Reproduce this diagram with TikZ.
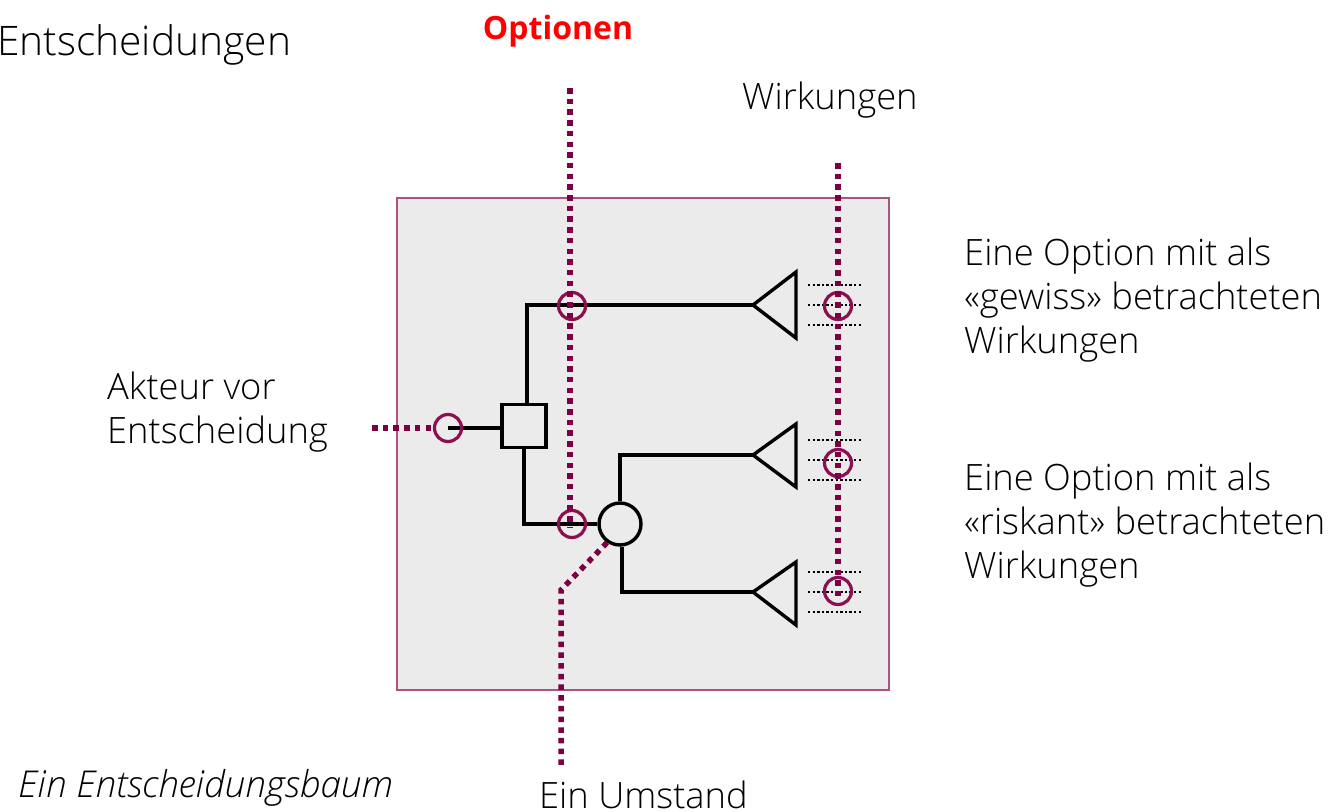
\documentclass[tikz,border=0pt]{standalone}
\usepackage{fontspec}
\setmainfont{Open Sans}[UprightFont=* Light, ItalicFont=* Light Italic, BoldFont=* Bold]
\definecolor{mrn}{HTML}{7D0045}
\definecolor{mrncirc}{HTML}{8C0F4F}
\definecolor{boxborder}{HTML}{A9547F}
\definecolor{boxfill}{HTML}{EBEBEB}
\begin{document}
\begin{tikzpicture}[x=1pt,y=-1pt,
  lbl/.style={inner sep=0pt, font=\fontsize{36.3}{44}\selectfont},
  mdot/.style={draw=mrn, line width=5.5pt, dash pattern=on 5.5pt off 5.2pt},
  bdot/.style={draw=black, line width=2.4pt, dash pattern=on 2.4pt off 2.2pt},
  mcirc/.style={circle, draw=mrncirc, line width=3.2pt, minimum size=27pt, inner sep=0pt},
  conn/.style={draw=black, line width=3.4pt},
  sqbox/.style={rectangle, draw=black, line width=3.4pt, minimum width=44pt, minimum height=43pt, inner sep=0pt},
  chance/.style={circle, draw=black, line width=3.4pt, minimum size=42pt, inner sep=0pt},
  tri/.style={draw=black, line width=3.4pt, line join=miter}
]
\useasboundingbox (0,0) rectangle (1338,811);
% background box
\draw[draw=boxborder, fill=boxfill, line width=2.2pt] (397,198) rectangle (889,690);

% nodes
\node[sqbox] (dec) at (524,426) {};
\node[chance] (ch) at (620,524) {};
\coordinate (t1) at (753,305);
\coordinate (t2) at (753,455);
\coordinate (t3) at (753,592);
\coordinate (s0) at (448,428);

% connectors
\draw[conn] (s0) -- (s0 -| dec.west);
\draw[conn] ([xshift=3pt]dec.north) |- (t1);
\draw[conn] (dec.south) |- (ch.west);
\draw[conn] (ch.north) |- (t2);
\draw[conn] ([xshift=2pt]ch.south) |- (t3);

% triangles
\draw[tri] (t1) -- ++(43,-33) -- ++(0,66) -- cycle;
\draw[tri] (t2) -- ++(43,-31) -- ++(0,63) -- cycle;
\draw[tri] (t3) -- ++(43,-30) -- ++(0,63) -- cycle;

% black dotted outcome lines
\foreach \t/\dy in {t1/0, t2/5, t3/0}{
  \draw[bdot] ([shift={(55,-20+\dy)}]\t) -- ++(54,0);
  \draw[bdot] ([shift={(55,0+\dy)}]\t) -- ++(54,0);
  \draw[bdot] ([shift={(55,20+\dy)}]\t) -- ++(54,0);
}

% circles (named)
\node[mcirc] (c0) at (s0) {};
\node[mcirc] (c1) at (572,306) {};
\node[mcirc] (c2) at (572,524) {};
\node[mcirc] (c3) at (838,306) {};
\node[mcirc] (c4) at (838,463) {};
\node[mcirc] (c5) at (838,591) {};

% maroon dotted lines
\coordinate (o1) at (570,88);
\coordinate (o2) at (570,528);
\draw[mdot] (o1) -- (o2);
\coordinate (w1) at (838,163);
\coordinate (w2) at (838,596);
\draw[mdot] (w1) -- (w2);
\coordinate (a0) at (372,428);
\draw[mdot] (a0) -- (c0.west);
\coordinate (u2) at (561,590);
\coordinate (u3) at (561,766);
\draw[mdot] (ch.235) -- (u2) -- (u3);

% texts
\node[lbl, anchor=base west, font=\fontsize{40.7}{46}\selectfont] (ent) at (-3,55) {Entscheidungen};
\node[anchor=base, inner sep=0pt, font=\bfseries\fontsize{32}{38}\selectfont, text=red] (opt) at (558,39) {Optionen};
\node[lbl, anchor=base west] (wir) at (742,109) {Wirkungen};
\node[lbl, anchor=north west, align=left] (g1) at (964,237.5) {Eine Option mit als\\«gewiss» betrachteten\\Wirkungen};
\node[lbl, anchor=north west, align=left] (g2) at (964,462.5) {Eine Option mit als\\«riskant» betrachteten\\Wirkungen};
\node[lbl, anchor=north west, align=left] (akt) at (107,371.5) {Akteur vor\\Entscheidung};
\node[lbl, anchor=base west, font=\itshape\fontsize{37}{44}\selectfont] (baum) at (18,797) {Ein Entscheidungsbaum};
\node[lbl, anchor=base west] (ums) at (539,808) {Ein Umstand};
\end{tikzpicture}
\end{document}
